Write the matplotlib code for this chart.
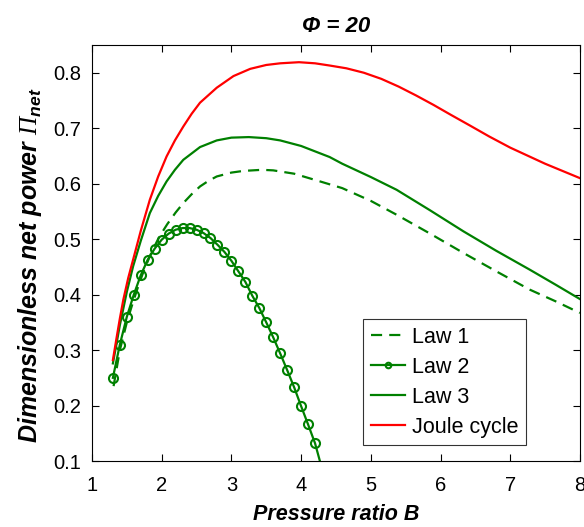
import numpy as np
import matplotlib
matplotlib.use('Agg')
import matplotlib.pyplot as plt

plt.rcParams['font.family'] = ['Liberation Sans', 'DejaVu Sans']
plt.rcParams['mathtext.fontset'] = 'custom'
plt.rcParams['mathtext.rm'] = 'Liberation Serif:italic'
plt.rcParams['mathtext.it'] = 'Liberation Sans:bold:italic'
plt.rcParams['mathtext.bf'] = 'Liberation Sans:bold:italic'

# Law 1 (dashed)
b_law1 = [1.31, 1.4, 1.5, 1.57, 1.65, 1.74, 1.85, 1.96, 2.08, 2.2, 2.31, 2.43,
          2.55, 2.67, 2.79, 3.0, 3.17, 3.44, 3.6, 3.9, 4.3, 4.59, 5.0, 5.37,
          5.85, 6.33, 6.8, 7.28, 7.65, 8.0]
p_law1 = [0.235, 0.300, 0.350, 0.379, 0.41, 0.442, 0.475, 0.503, 0.527, 0.548,
          0.565, 0.581, 0.595, 0.605, 0.613, 0.620, 0.623, 0.625, 0.624, 0.618,
          0.603, 0.592, 0.569, 0.544, 0.510, 0.475, 0.442, 0.409, 0.388, 0.367]

# Law 2 (markers)
b_law2 = [1.3, 1.4, 1.5, 1.6, 1.7, 1.8, 1.9, 2.0, 2.1, 2.2, 2.3, 2.4, 2.5, 2.6,
          2.7, 2.8, 2.9, 3.0, 3.1, 3.2, 3.3, 3.4, 3.5, 3.6, 3.7, 3.8, 3.9, 4.0,
          4.1, 4.2, 4.3]
p_law2 = [0.25, 0.31, 0.36, 0.40, 0.435, 0.463, 0.483, 0.499, 0.51, 0.517,
          0.52, 0.52, 0.517, 0.511, 0.502, 0.49, 0.477, 0.461, 0.442, 0.423,
          0.398, 0.376, 0.35, 0.323, 0.294, 0.264, 0.233, 0.199, 0.166, 0.132,
          0.086]

# Law 3 (solid green)
b_law3 = [1.3, 1.35, 1.4, 1.5, 1.59, 1.7, 1.83, 1.95, 2.07, 2.19, 2.31, 2.55,
          2.79, 3.0, 3.25, 3.5, 3.7, 4.0, 4.41, 4.59, 5.0, 5.37, 5.85, 6.33,
          6.8, 7.28, 7.65, 8.0]
p_law3 = [0.276, 0.31, 0.345, 0.405, 0.451, 0.497, 0.547, 0.578, 0.604, 0.625,
          0.643, 0.666, 0.678, 0.683, 0.684, 0.682, 0.678, 0.668, 0.648, 0.636,
          0.612, 0.589, 0.552, 0.514, 0.479, 0.445, 0.418, 0.392]

# Joule cycle (red)
b_joule = [1.3, 1.35, 1.4, 1.45, 1.52, 1.59, 1.7, 1.83, 1.95, 2.07, 2.19, 2.31,
           2.43, 2.55, 2.79, 3.03, 3.27, 3.5, 3.7, 3.97, 4.2, 4.41, 4.65, 4.9,
           5.15, 5.4, 5.65, 5.9, 6.15, 6.42, 6.7, 7.0, 7.5, 8.0]
p_joule = [0.282, 0.32, 0.357, 0.391, 0.43, 0.463, 0.515, 0.571, 0.613, 0.649,
           0.678, 0.703, 0.726, 0.746, 0.773, 0.794, 0.807, 0.814, 0.817, 0.819,
           0.817, 0.813, 0.808, 0.800, 0.789, 0.775, 0.759, 0.742, 0.724, 0.705,
           0.685, 0.665, 0.636, 0.610]

green = '#008000'
red = '#ff0000'

fig = plt.figure(figsize=(5.84, 5.27), dpi=100)
ax = fig.add_axes([0.1575, 0.1252, 0.8355, 0.7894])

ax.plot(b_law1, p_law1, '--', color=green, lw=1.6, dashes=(5, 3.2), label='Law 1')
ax.plot(b_law2, p_law2, '-o', color=green, lw=1.6, ms=6.5, mfc='none', mew=1.5,
        label='Law 2')
ax.plot(b_law3, p_law3, '-', color=green, lw=1.6, label='Law 3')
ax.plot(b_joule, p_joule, '-', color=red, lw=1.6, label='Joule cycle')

ax.set_xlim(1, 8)
ax.set_ylim(0.1, 0.85)
ax.set_xticks(range(1, 9))
ax.set_yticks([0.1, 0.2, 0.3, 0.4, 0.5, 0.6, 0.7, 0.8])
ax.set_yticklabels(['0.1', '0.2', '0.3', '0.4', '0.5', '0.6', '0.7', '0.8'])
ax.tick_params(direction='in', top=True, right=True, length=5, width=0.8,
               labelsize=14.5)
ax.tick_params(axis='x', pad=11)
ax.tick_params(axis='y', pad=7.5)
for s in ax.spines.values():
    s.set_linewidth(0.8)

ax.set_xlabel('Pressure ratio B', fontsize=15.5, fontweight='bold',
              style='italic', labelpad=6)
ax.set_ylabel(r'Dimensionless net power $\Pi_{\mathit{net}}$', fontsize=18,
              fontweight='bold', style='italic')
ax.yaxis.set_label_coords(-0.098, 0.47)
ax.set_title('Φ = 20', fontsize=16, fontweight='bold', style='italic', pad=9.5)

leg = ax.legend(loc='lower right', bbox_to_anchor=(0.889, 0.038), fontsize=15.5,
                frameon=True, fancybox=False, edgecolor='black',
                handlelength=1.6, handletextpad=0.3, borderpad=0.35,
                labelspacing=0.42, borderaxespad=0)
leg.get_frame().set_linewidth(0.8)
for h in leg.legend_handles:
    h.set_markersize(4)

fig.savefig('out.png', dpi=100)
